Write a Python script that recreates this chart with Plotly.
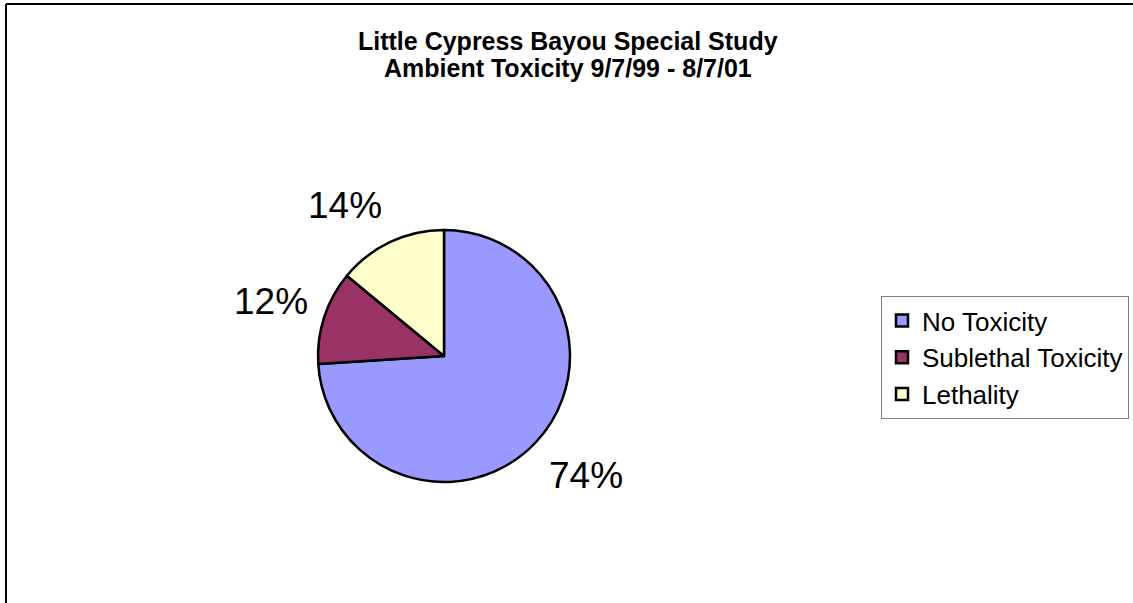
import math
import plotly.graph_objects as go

# Ambient toxicity outcomes, Little Cypress Bayou special study
categories = ["No Toxicity", "Sublethal Toxicity", "Lethality"]
shares = [74, 12, 14]
slice_colors = ["#9999FF", "#993366", "#FFFFCC"]
title_lines = ["Little Cypress Bayou Special Study", "Ambient Toxicity 9/7/99 - 8/7/01"]

W, H = 1133, 603
FONT = "Arial, Liberation Sans, Helvetica, sans-serif"

# pie placement in pixels
cx, cy, R = 444, 356, 126
dom_x = [(cx - R) / W, (cx + R) / W]
dom_y = [1 - (cy + R) / H, 1 - (cy - R) / H]

fig = go.Figure(
    go.Pie(
        labels=categories,
        values=shares,
        sort=False,
        direction="clockwise",
        rotation=0,
        marker=dict(colors=slice_colors, line=dict(color="black", width=2.5)),
        textinfo="none",
        hoverinfo="label+percent",
        domain=dict(x=dom_x, y=dom_y),
    )
)

# percentage labels placed just outside each slice, along its mid angle
total = sum(shares)
annotations = []
start = 0.0
for v in shares:
    ang = start + 360.0 * v / total / 2
    start += 360.0 * v / total
    s, c = math.sin(math.radians(ang)), math.cos(math.radians(ang))
    d = 1.12 * R
    px, py = cx + s * d, cy - c * d
    xa = "left" if s > 0.2 else ("right" if s < -0.2 else "center")
    ya = "middle" if abs(c) < 0.5 else ("top" if c < 0 else "bottom")
    if ya == "middle":
        py -= 0.25 * abs(c) * d
    annotations.append(dict(
        x=px / W, y=1 - py / H, xref="paper", yref="paper",
        text=f"{round(100 * v / total)}%", showarrow=False,
        xanchor=xa, yanchor=ya,
        font=dict(family=FONT, size=37, color="black"),
    ))

# two-line bold title
for i, line in enumerate(title_lines):
    annotations.append(dict(
        x=568 / W, y=1 - (41 + 27 * i) / H, xref="paper", yref="paper",
        text=f"<b>{line}</b>", showarrow=False, xanchor="center", yanchor="middle",
        font=dict(family=FONT, size=25, color="black"),
    ))

fig.update_layout(
    width=W, height=H,
    margin=dict(l=0, r=0, t=0, b=0),
    paper_bgcolor="white",
    plot_bgcolor="white",
    annotations=annotations,
    showlegend=True,
    legend=dict(
        x=881 / W, y=1 - 296 / H, xanchor="left", yanchor="top",
        bordercolor="#808080", borderwidth=1, bgcolor="white",
        font=dict(family=FONT, size=26, color="black"),
    ),
    shapes=[
        dict(type="line", xref="paper", yref="paper",
             x0=6 / W, x1=1, y0=1 - 4 / H, y1=1 - 4 / H,
             line=dict(color="black", width=2)),
        dict(type="line", xref="paper", yref="paper",
             x0=6 / W, x1=6 / W, y0=0, y1=1 - 4 / H,
             line=dict(color="black", width=2)),
    ],
)

fig.write_html("out.html")
